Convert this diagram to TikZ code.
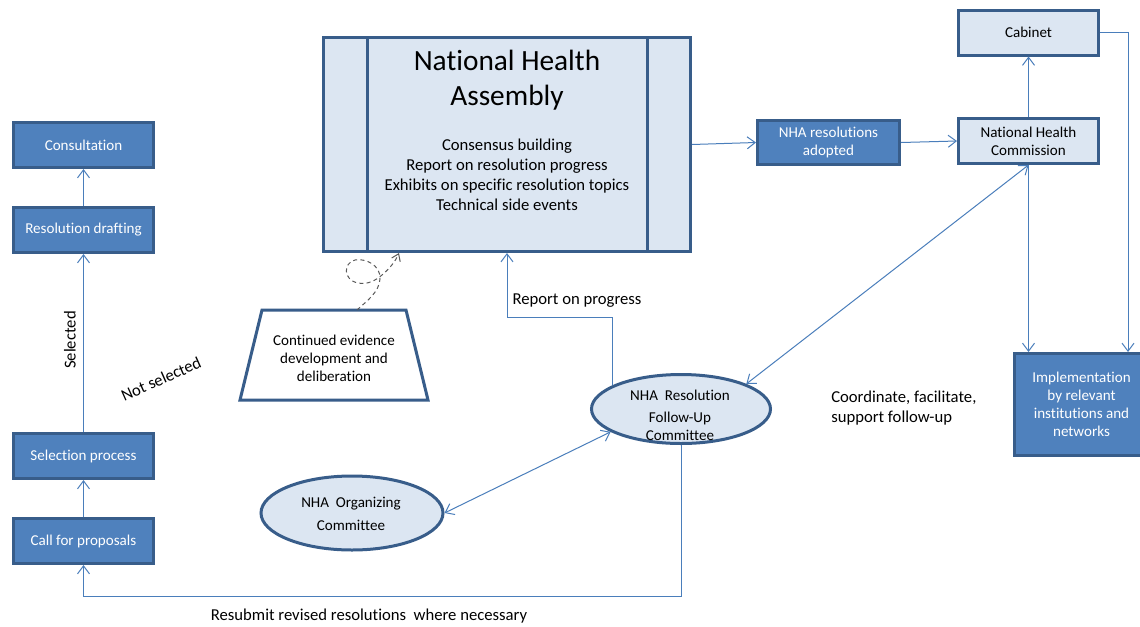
\documentclass[tikz,border=0pt]{standalone}
\usepackage{fontspec}
\setmainfont{Carlito}[Ligatures=NoCommon]
\usetikzlibrary{arrows.meta,shapes.geometric}
\definecolor{darkc}{HTML}{4F81BD}
\definecolor{darkb}{HTML}{385D8A}
\definecolor{lightc}{HTML}{DCE6F2}
\definecolor{lineb}{HTML}{4A7EBB}
\definecolor{dashc}{HTML}{595959}
\begin{document}
\begin{tikzpicture}[x=0.75pt,y=-0.75pt,
 darkbox/.style={draw=darkb, line width=2.25pt, fill=darkc, text=white, align=center, inner sep=0pt,
   font=\fontsize{11.3}{13.4}\selectfont, minimum width=105pt, minimum height=33.75pt},
 lightbox/.style={darkbox, fill=lightc, text=black},
 ell/.style={ellipse, draw=darkb, line width=2.25pt, fill=lightc, inner sep=0pt},
 conn/.style={draw=lineb, line width=0.75pt, -{Straight Barb[length=6pt,width=9pt]}},
 both/.style={conn, {Straight Barb[length=6pt,width=9pt]}-{Straight Barb[length=6pt,width=9pt]}},
 lbl/.style={font=\fontsize{12.5}{15}\selectfont, inner sep=0pt, align=center},
 sml/.style={font=\fontsize{11.3}{13.4}\selectfont, inner sep=0pt, align=center},
]
\clip (0,0) rectangle (1140,626);
\fill[white] (0,0) rectangle (1140,626);

% left column
\node[darkbox] (cons) at (83.5,145) {Consultation};
\node[darkbox] (draft) at (83.5,230) {Resolution drafting};
\node[darkbox] (sel) at (83.5,456) {Selection process};
\node[darkbox] (call) at (83.5,541) {Call for proposals};

% National Health Assembly
\node[draw=darkb, line width=2.25pt, fill=lightc, minimum width=367*0.75pt, minimum height=214*0.75pt, inner sep=0pt] (nha) at (507,144.5) {};
\draw[darkb, line width=2.25pt] ([xshift={45.5*0.75pt}]nha.north west) -- ([xshift={45.5*0.75pt}]nha.south west);
\draw[darkb, line width=2.25pt] ([xshift={-44.5*0.75pt}]nha.north east) -- ([xshift={-44.5*0.75pt}]nha.south east);
\node[font=\fontsize{22}{26.5}\selectfont, align=center, inner sep=0pt] (nhat) at (507,80) {National Health\\Assembly};
\node[font=\fontsize{12.5}{15}\selectfont, align=center, inner sep=0pt] (nhab) at (507,175) {Consensus building\\Report on resolution progress\\Exhibits on specific resolution topics\\Technical side events};

% right side
\node[darkbox, minimum width=142*0.75pt, minimum height=44*0.75pt] (adopt) at (828.5,142.5) {NHA resolutions\\adopted};
\node[lightbox] (nhc) at (1028.5,141) {National Health\\Commission};
\node[lightbox] (cab) at (1028.5,32.5) {Cabinet};
\node[darkbox, minimum width=134*0.75pt, minimum height=102*0.75pt] (impl) at (1081.5,404.5) {Implementation\\by relevant\\institutions and\\networks};

% ellipses
\node[ell, minimum width=179*0.75pt, minimum height=69*0.75pt] (fu) at (681,409) {};
\node[sml] (fut) at (680,415) {NHA\ \ Resolution\\[3pt]Follow-Up\\Committee};
\node[ell, minimum width=182*0.75pt, minimum height=74*0.75pt] (oc) at (352,513) {};
\node[sml] (oct) at (351,514) {NHA\ \ Organizing\\[3.5pt]Committee};

% trapezoid
\draw[draw=darkb, line width=2.25pt, fill=white] (262,310) -- (406,310) -- (428,400) -- (240,400) -- cycle;
\node[sml] (trap) at (334,358) {Continued evidence\\development and\\deliberation};
\coordinate (traptop) at (357,310);

% labels
\node[lbl, rotate=90] (selL) at (70,340) {Selected};
\node[lbl, rotate=24] (nsel) at (161,379) {Not selected};
\node[lbl] (rpl) at (577,301) {Report on progress};
\node[lbl] (rsl) at (369,616) {Resubmit revised resolutions\ \ where necessary};
\node[lbl, align=left, anchor=west] (coord) at (831,408) {Coordinate, facilitate,\\support follow-up};

% connectors
\draw[conn] (call) -- (sel);
\draw[conn] (sel) -- (draft);
\draw[conn] (draft) -- (cons);
\draw[conn] (nha.east) -- (adopt.west);
\draw[conn] (adopt.east) -- (nhc.west);
\draw[conn] (nhc) -- (cab);
\coordinate (cabturn) at (1128,32.5);
\draw[conn] (cab.east) -- (cabturn) -- (cabturn |- impl.north);
\draw[conn] (nhc.south) -- (nhc.south |- impl.north);
\draw[both] (nhc.south) -- (fu.21);
\draw[both] (oc.east) -- (fu.198);
\coordinate (rpy) at (0,317);
\draw[conn] (fu.161) |- (rpy -| nha.south) -- (nha.south);
\coordinate (rsy) at (0,596);
\draw[conn] (fu.south) |- (rsy -| call.south) -- (call.south);

% dashed loop
\coordinate (dashend) at ([xshift={77*0.75pt}]nha.south west);
\draw[dashc, line width=0.75pt, dash pattern=on 3pt off 2.5pt, -{Straight Barb[length=5pt,width=7pt]}]
  (traptop) .. controls (368,300) and (379,292) .. (380,279)
  .. controls (381,265) and (365,258) .. (355,260)
  .. controls (343,263) and (343,280) .. (358,283)
  .. controls (368,285) and (376,280) .. (382,275)
  .. controls (390,268) and (395,262) .. (dashend);
\end{tikzpicture}
\end{document}
